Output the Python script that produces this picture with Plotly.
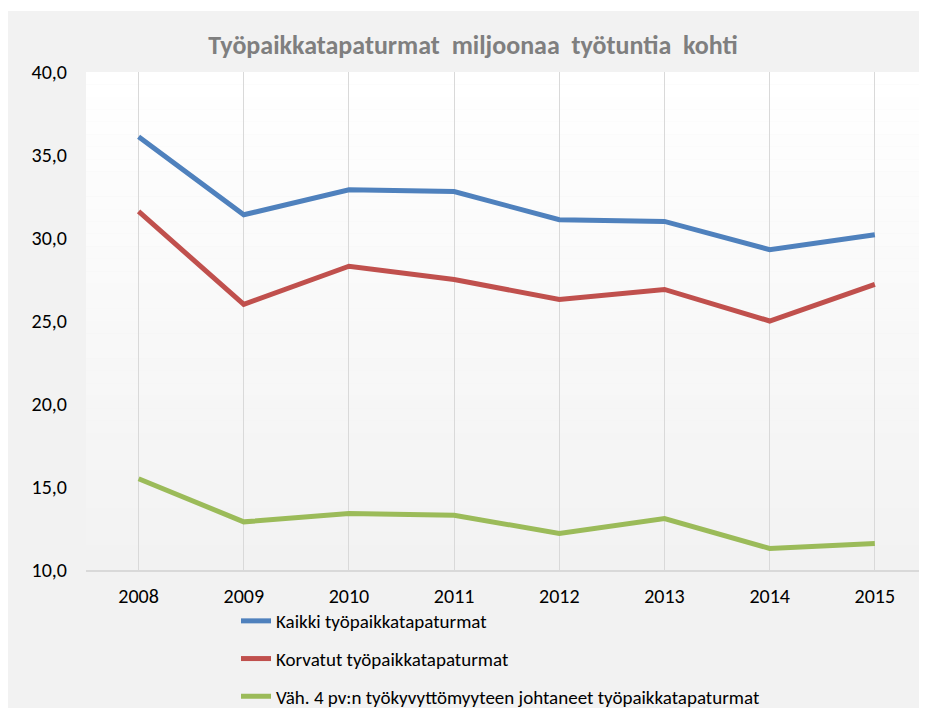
import plotly.graph_objects as go

years = ["2008", "2009", "2010", "2011", "2012", "2013", "2014", "2015"]
kaikki = [36.1, 31.4, 32.9, 32.8, 31.1, 31.0, 29.3, 30.2]
korvatut = [31.6, 26.0, 28.3, 27.5, 26.3, 26.9, 25.0, 27.2]
vah4 = [15.5, 12.9, 13.4, 13.3, 12.2, 13.1, 11.3, 11.6]
names = ["Kaikki työpaikkatapaturmat", "Korvatut työpaikkatapaturmat",
         "Väh. 4 pv:n työkyvyttömyyteen johtaneet työpaikkatapaturmat"]
colors = ["#4f81bd", "#c0504d", "#9bbb59"]
title = "Työpaikkatapaturmat  miljoonaa  työtuntia  kohti"
y_ticks = [10, 15, 20, 25, 30, 35, 40]

FONT = "Carlito, Calibri, Lato, sans-serif"

fig = go.Figure()
for i, (vals, nm, col) in enumerate(zip([kaikki, korvatut, vah4], names, colors)):
    fig.add_trace(go.Scatter(x=years, y=vals, name=nm, mode="lines",
                             line=dict(color=col, width=5),
                             legendgroup=f"g{i}"))

# figure sized to fit inside the page's default 8px body margin
W, H = 911, 700
L, R, T, B = 78, 0, 64, 138
pw = W - L - R
ph = H - T - B

shapes = []
# chart background (light grey)
shapes.append(dict(type="rect", xref="paper", yref="paper",
                   x0=-L / pw - 0.01, x1=1.01,
                   y0=-B / ph - 0.01, y1=(ph + T - 3) / ph,
                   fillcolor="#f2f2f2", line=dict(width=0), layer="below"))
# plot area gradient (white -> light grey)
n = 40
for k in range(n):
    t = k / (n - 1)
    c = int(round(255 - (255 - 242) * t))
    shapes.append(dict(type="rect", xref="paper", yref="paper",
                       x0=0, x1=1, y0=1 - (k + 1) / n, y1=1 - k / n,
                       fillcolor=f"rgb({c},{c},{c})", line=dict(width=0),
                       layer="below"))

fig.update_layout(
    width=W, height=H,
    margin=dict(l=L, r=R, t=T, b=B, pad=0, autoexpand=False),
    paper_bgcolor="white",
    plot_bgcolor="rgba(0,0,0,0)",
    separators=",.",
    font=dict(family=FONT, size=20, color="#000000"),
    title=dict(text="<b>" + title + "</b>", x=465 / W, xanchor="center",
               y=1 - 37 / H, yanchor="middle", yref="container",
               font=dict(family=FONT, size=26, color="#7f7f7f")),
    shapes=shapes,
    showlegend=True,
    legend=dict(orientation="v", x=(228) / W, xanchor="left", xref="container",
                y=1 - 594 / H, yanchor="top", yref="container",
                bgcolor="rgba(0,0,0,0)", font=dict(family=FONT, size=19),
                tracegroupgap=10, itemwidth=30),
    xaxis=dict(type="category", range=[-0.5, 7.42], showgrid=True,
               gridcolor="#d9d9d9", gridwidth=1, showline=True,
               linecolor="#d9d9d9", linewidth=1.5, ticks="", ticklen=0,
               ticklabelstandoff=7,
               tickfont=dict(family=FONT, size=20, color="#000000"),
               zeroline=False, fixedrange=True),
    yaxis=dict(range=[10, 40], tickvals=y_ticks, tickformat=".1f",
               showgrid=False, showline=False, zeroline=False, ticks="",
               ticklabelstandoff=18,
               tickfont=dict(family=FONT, size=20, color="#000000")),
)

fig.write_html("out.html")
